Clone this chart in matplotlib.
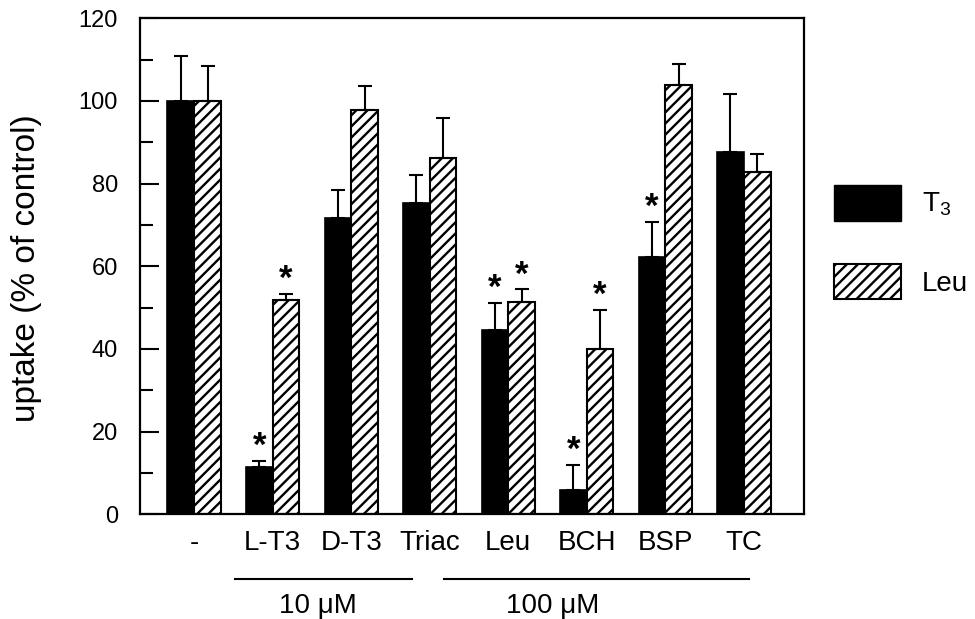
import numpy as np
import matplotlib
matplotlib.use('Agg')
import matplotlib.pyplot as plt
from matplotlib.patches import Patch
import matplotlib.transforms as mtransforms

plt.rcParams['font.family'] = ['Liberation Sans', 'DejaVu Sans']
plt.rcParams['mathtext.default'] = 'regular'
plt.rcParams['hatch.linewidth'] = 1.7

# data
labels = ['-', 'L-T3', 'D-T3', 'Triac', 'Leu', 'BCH', 'BSP', 'TC']
t3 = [100, 11.5, 71.8, 75.3, 44.7, 5.9, 62.3, 87.7]
t3_err = [11, 1.5, 6.7, 6.8, 6.5, 6.1, 8.4, 14.1]
leu = [100, 51.9, 97.7, 86.1, 51.3, 40.1, 103.9, 82.7]
leu_err = [8.5, 1.5, 6.0, 9.9, 3.1, 9.4, 5.1, 4.5]
t3_sig = [False, True, False, False, True, True, True, False]
leu_sig = [False, True, False, False, True, True, False, False]
conc_groups = ['10 μM', '100 μM']

x = np.arange(len(labels))
w = 0.34

fig = plt.figure(figsize=(9.75, 6.19), dpi=100)
ax = fig.add_axes([0.1436, 0.1691, 0.6813, 0.8013])

ek = dict(elinewidth=1.5, capthick=1.5, ecolor='k')
ax.bar(x - w/2, t3, w, color='k', edgecolor='k', linewidth=1.2,
       yerr=[np.zeros(len(t3)), t3_err], capsize=5, error_kw=ek, label='T$_3$')
ax.bar(x + w/2, leu, w, color='white', edgecolor='k', linewidth=1.5, hatch='///',
       yerr=[np.zeros(len(leu)), leu_err], capsize=5, error_kw=ek, label='Leu')

# significance stars
for i in range(len(x)):
    if t3_sig[i]:
        ax.text(x[i] - w/2, t3[i] + t3_err[i] + 1.2, '*', ha='center', va='baseline',
                fontsize=25, fontweight='bold')
    if leu_sig[i]:
        ax.text(x[i] + w/2, leu[i] + leu_err[i] + 1.2, '*', ha='center', va='baseline',
                fontsize=25, fontweight='bold')

ax.set_xlim(-0.69, 7.77)
ax.set_ylim(0, 120)
ax.set_yticks(np.arange(0, 121, 20))
ax.set_yticks(np.arange(0, 121, 10), minor=True)
ax.tick_params(axis='y', which='major', direction='in', length=14, width=1.5, labelsize=17, pad=16)
ax.tick_params(axis='y', which='minor', direction='in', length=9, width=1.5)
ax.set_xticks(x)
ax.set_xticklabels(labels, fontsize=20)
ax.tick_params(axis='x', length=0, pad=11)
for s in ax.spines.values():
    s.set_linewidth(1.6)

ax.set_ylabel('uptake (% of control)', fontsize=24)
ax.yaxis.set_label_coords(-0.1476, 0.497)

# concentration brackets under the labels
trans = mtransforms.blended_transform_factory(ax.transData, ax.transAxes)
ax.plot([0.52, 2.78], [-0.130, -0.130], color='k', lw=1.5, transform=trans, clip_on=False)
ax.plot([3.18, 7.06], [-0.130, -0.130], color='k', lw=1.5, transform=trans, clip_on=False)
ax.text(1.57, -0.1996, conc_groups[0], ha='center', va='baseline', fontsize=20, transform=trans)
ax.text(4.56, -0.1996, conc_groups[1], ha='center', va='baseline', fontsize=20, transform=trans)

handles = [Patch(facecolor='k', edgecolor='k', label='T$_3$'),
           Patch(facecolor='white', edgecolor='k', hatch='///', linewidth=1.5, label='Leu')]
fig.legend(handles=handles, loc='upper left', bbox_to_anchor=(834/975, 1 - 185/619),
           frameon=False, fontsize=20, handlelength=2.4, handleheight=1.6,
           labelspacing=1.55, handletextpad=0.76, borderpad=0, borderaxespad=0)

fig.savefig('out.png', dpi=100)
